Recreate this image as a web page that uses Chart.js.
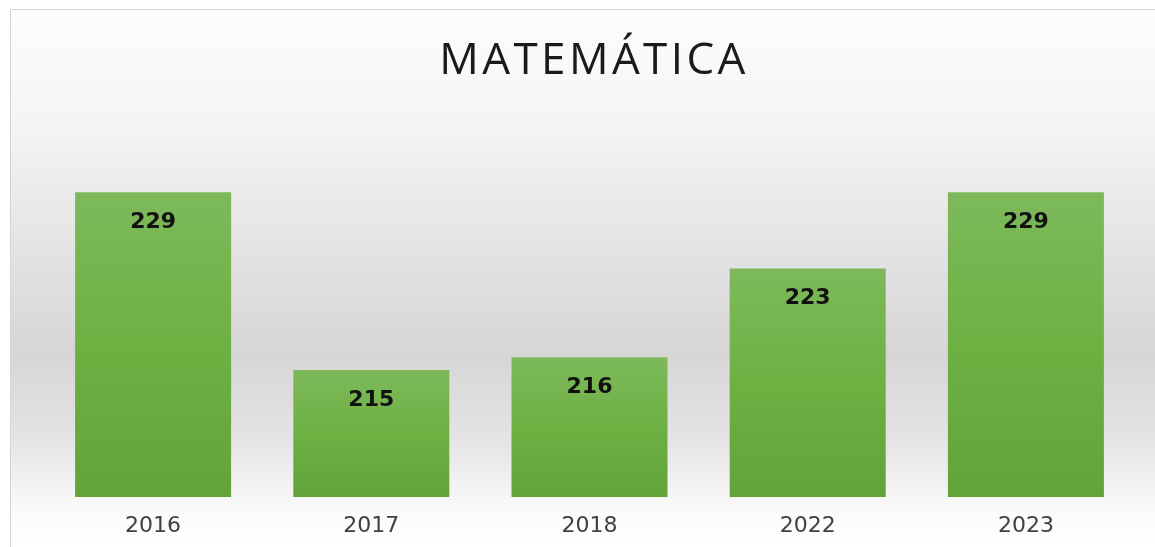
<!DOCTYPE html>
<html>
<head>
<meta charset="utf-8">
<script src="https://cdn.jsdelivr.net/npm/chart.js@4"></script>
<style>
  html, body { margin: 0; padding: 0; background: #fff; }
  #marco {
    position: absolute; left: 10px; top: 9px; width: 1145px; height: 538px;
    border-left: 1px solid #d4d4d4; border-top: 1px solid #d4d4d4;
    box-sizing: border-box;
    background: linear-gradient(to bottom, #fdfdfd 0%, #f5f5f5 20%, #e3e3e3 45%, #d6d6d6 64%, #e4e4e4 80%, #fafafa 93%, #ffffff 100%);
  }
  #caja { position: absolute; left: 0; top: 0; width: 1155px; height: 547px; }
</style>
</head>
<body>
<div id="marco"></div>
<div id="caja"><canvas id="grafica1"></canvas></div>
<script>
// datos de la gráfica
var titulo = 'MATEMÁTICA';
var anios = ['2016', '2017', '2018', '2022', '2023'];
var puntajes = [229, 215, 216, 223, 229];
var ejeMin = 205;
var ejeMax = 235;

var canvas1 = document.getElementById('grafica1').getContext('2d');

// degradado verde de arriba (claro) hacia abajo (oscuro) en cada barra
function colorBarra(context) {
  var chart = context.chart;
  if (!chart.chartArea || !chart.scales.y || context.parsed == null) {
    return '#6fae47';
  }
  var y = chart.scales.y;
  var arriba = y.getPixelForValue(context.parsed.y);
  var abajo = y.getPixelForValue(ejeMin);
  var g = chart.ctx.createLinearGradient(0, arriba, 0, abajo);
  g.addColorStop(0, '#7db95b');
  g.addColorStop(0.5, '#6fb043');
  g.addColorStop(1, '#63a33a');
  return g;
}

// título y etiquetas de valor dentro de cada barra
var textos = {
  id: 'textos',
  afterDatasetsDraw(chart) {
    var ctx = chart.ctx;
    var meta = chart.getDatasetMeta(0);
    ctx.save();
    ctx.font = 'bold 22px "DejaVu Sans"';
    ctx.fillStyle = '#111';
    ctx.textAlign = 'center';
    ctx.textBaseline = 'middle';
    meta.data.forEach(function(barra, i) {
      ctx.fillText(puntajes[i], barra.x, barra.y + 30);
    });
    // título con un poco de espacio entre letras
    ctx.font = '44px "Open Sans"';
    ctx.fillStyle = '#1a1a1a';
    ctx.letterSpacing = '3.4px';
    ctx.textBaseline = 'alphabetic';
    ctx.fillText(titulo, 594, 74);
    ctx.restore();
  }
};

var grafica1 = new Chart(canvas1, {
  type: 'bar',
  data: {
    labels: anios,
    datasets: [{
      label: 'Matemática',
      data: puntajes,
      backgroundColor: colorBarra,
      borderWidth: 0,
      categoryPercentage: 1,
      barPercentage: 0.715
    }]
  },
  options: {
    responsive: true,
    maintainAspectRatio: false,
    animation: false,
    layout: {
      padding: { left: 44, right: 20, top: 116, bottom: 6 }
    },
    plugins: {
      legend: { display: false },
      tooltip: { enabled: false },
      title: { display: false }
    },
    scales: {
      x: {
        grid: { display: false, drawTicks: false },
        border: { display: false },
        afterFit: function(scale) { scale.height = 44; },
        ticks: {
          color: '#404040',
          padding: 16,
          font: { family: '"DejaVu Sans"', size: 22, lineHeight: 1.2 }
        }
      },
      y: {
        display: false,
        min: ejeMin,
        max: ejeMax
      }
    }
  },
  plugins: [textos]
});
</script>
</body>
</html>
